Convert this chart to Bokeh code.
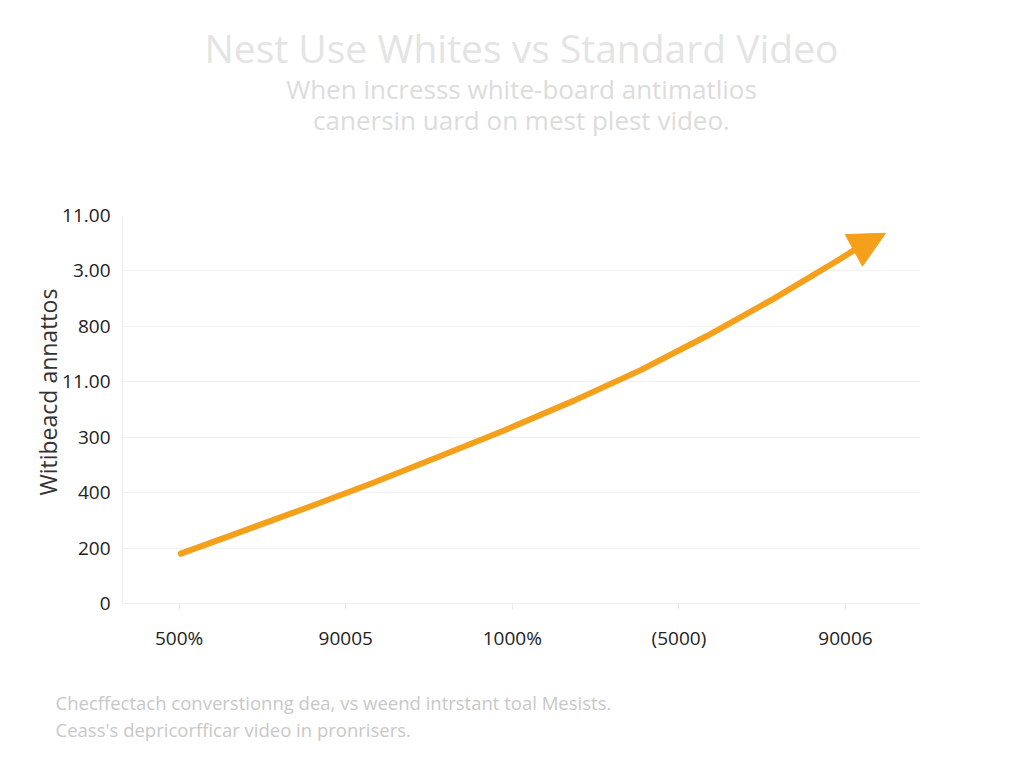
from bokeh.plotting import figure
from bokeh.models import FixedTicker, Title, Arrow, NormalHead, Range1d
from bokeh.embed import file_html
from bokeh.resources import INLINE

# ---- data ----
x_labels = ["500%", "90005", "1000%", "(5000)", "90006"]
y_labels = ["0", "200", "400", "300", "11.00", "800", "3.00", "11.00"]
curve_x = [0.01, 0.35, 0.75, 1.15, 1.55, 1.95, 2.37, 2.77, 3.17, 3.57, 3.97, 4.05]
curve_y = [0.90, 1.27, 1.71, 2.16, 2.64, 3.12, 3.66, 4.21, 4.83, 5.50, 6.22, 6.37]
arrow_tip = (4.24, 6.68)

title_text = "Nest Use Whites vs Standard Video"
subtitle_lines = ["When incresss white-board antimatlios",
                  "canersin uard on mest plest video."]
footer_lines = ["Checffectach converstionng dea, vs weend intrstant toal Mesists.",
                "Ceass's depricorfficar video in pronrisers."]
y_axis_title = "Witibeacd annattos"

FONT = "Open Sans"
ORANGE = "#F5A01A"

W, H = 1008, 752
p = figure(width=W, height=H, output_backend="svg", toolbar_location=None,
           x_range=Range1d(-0.34, 4.45), y_range=Range1d(0, 7),
           min_border_left=122, min_border_right=88,
           min_border_top=215, min_border_bottom=149)
p.outline_line_color = None
p.background_fill_color = "white"
p.border_fill_color = "white"

# axes
p.xaxis.ticker = FixedTicker(ticks=list(range(len(x_labels))))
p.xaxis.major_label_overrides = {i: s for i, s in enumerate(x_labels)}
p.yaxis.ticker = FixedTicker(ticks=list(range(len(y_labels))))
p.yaxis.major_label_overrides = {i: s for i, s in enumerate(y_labels)}
for ax in (p.xaxis[0], p.yaxis[0]):
    ax.axis_line_color = "#eeeeee"
    ax.major_label_text_font = FONT
    ax.major_label_text_color = "#222222"
    ax.minor_tick_line_color = None
p.xaxis.major_tick_line_color = "#e8e8e8"
p.xaxis.major_tick_out = 6
p.xaxis.major_tick_in = 0
p.xaxis.major_label_text_font_size = "19px"
p.xaxis.major_label_standoff = 15
p.yaxis.major_tick_line_color = None
p.yaxis.major_label_text_font_size = "19px"
p.yaxis.major_label_standoff = 6

p.xgrid.grid_line_color = None
p.ygrid.grid_line_color = "#f2f2f2"
p.ygrid.grid_line_width = 1

# curve + arrow head
p.line(curve_x, curve_y, line_color=ORANGE, line_width=6, line_cap="round",
       line_join="round")
p.add_layout(Arrow(end=NormalHead(size=36, fill_color=ORANGE, line_color=ORANGE),
                   x_start=curve_x[-1], y_start=curve_y[-1],
                   x_end=arrow_tip[0], y_end=arrow_tip[1],
                   line_color=ORANGE, line_width=6))

def title(text, size, color, align="center", offset=0, standoff=0):
    return Title(text=text, text_font=FONT, text_font_size=size,
                 text_font_style="normal", text_color=color,
                 align=align, offset=offset, standoff=standoff)

# y-axis title on the left, starting 108px above the frame bottom
p.add_layout(title(y_axis_title, "23px", "#333333", align="left", offset=108,
                   standoff=-8), "left")

# header: first added sits nearest to the frame (first one is a blank spacer)
p.add_layout(title(" ", "1px", "white", standoff=75), "above")
p.add_layout(title(subtitle_lines[1], "26px", "#dcdcdc", standoff=0), "above")
p.add_layout(title(subtitle_lines[0], "26px", "#dcdcdc", standoff=-14), "above")
p.add_layout(title(title_text, "39px", "#e4e4e4", standoff=4), "above")

# footer: below the x axis (first one is a blank spacer)
p.add_layout(title(" ", "1px", "white", standoff=31), "below")
for s in footer_lines:
    p.add_layout(title(s, "18.5px", "#c8c8c8", align="left", offset=-67), "below")

open("out.html", "w").write(file_html(p, INLINE))
